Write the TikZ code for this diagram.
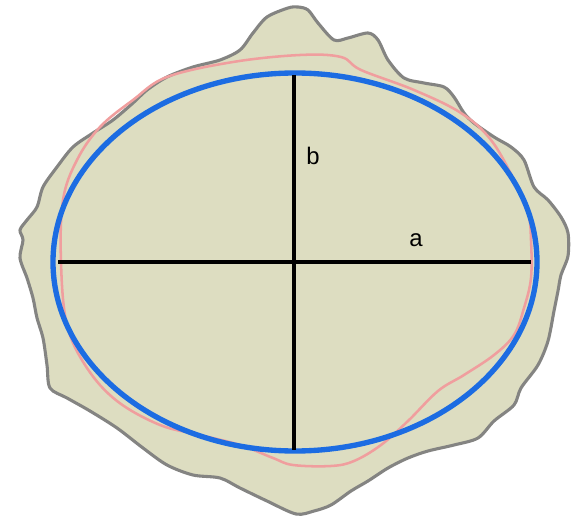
\documentclass[tikz,border=0pt]{standalone}
\usepackage{fontspec}
\setmainfont{Liberation Sans}
\usepackage{tikz}
\usetikzlibrary{positioning,calc}
\usepackage{xcolor}
\definecolor{blobfill}{RGB}{221,221,193}
\definecolor{blobgray}{RGB}{132,132,130}
\definecolor{fitpink}{RGB}{240,158,158}
\definecolor{ellblue}{RGB}{28,108,226}

\begin{document}
\begin{tikzpicture}[x=0.025cm,y=-0.025cm,
    axisline/.style={line width=3.2pt,black},
    lbl/.style={font=\fontsize{17}{19}\selectfont,inner sep=0pt}]
    \useasboundingbox[fill=white] (0,0) rectangle (581,518);
    % irregular outline
    \draw[blobgray,fill=blobfill,line width=2.2pt,line join=round] plot[smooth cycle,tension=0.5] coordinates {
      (298,7) (308,10) (318,23) (334,40) (348,38) (368,33) (378,40) (388,60)
      (404,78) (424,83) (444,87) (454,97) (464,113) (474,123) (494,137) (511,147)
      (524,160) (534,187) (548,200) (561,217) (568,233) (568,256) (561,275) (558,291)
      (554,311) (548,341) (538,365) (521,388) (514,405) (494,421) (478,438) (454,445)
      (428,451) (408,458) (388,468) (368,481) (351,491) (331,505) (314,511) (296,514)
      (267,501) (240,488) (220,478) (193,475) (167,465) (143,448) (117,428) (90,411)
      (67,398) (50,388) (47,365) (43,338) (37,318) (33,298) (27,278) (20,258)
      (23,240) (20,230) (27,220) (37,207) (43,187) (57,167) (73,147) (93,133)
      (113,120) (133,103) (147,90) (167,77) (193,67) (220,60) (240,50) (253,33)
      (267,17) (288,8)};
    % smoothed contour
    \draw[fitpink,line width=1.8pt] plot[smooth cycle,tension=0.6] coordinates {
      (300,55) (341,57) (361,70) (414,90) (461,113) (491,140) (514,180) (528,213)
      (531,240) (531,278) (524,308) (514,335) (494,355) (464,375) (438,391) (408,421)
      (381,445) (354,461) (331,466) (293,465) (273,458) (240,445) (200,435) (160,425)
      (117,401) (87,368) (67,325) (61,262) (63,200) (77,160) (100,127) (133,100)
      (167,77) (233,62)};
    % fitted ellipse
    \coordinate (ctr) at (295,262);
    \draw[ellblue,line width=3.8pt] (ctr) ellipse [x radius=242, y radius=189];
    % axes
    \coordinate (left) at (58,262);
    \coordinate (right) at (531,262);
    \coordinate (top) at (294,75);
    \coordinate (bot) at (294,450);
    \draw[axisline] (left) -- (right);
    \draw[axisline] (top) -- (bot);
    \node[lbl] (lb) at (313,156) {b};
    \node[lbl] (la) at (416,240) {a};
  \end{tikzpicture}
\end{document}
